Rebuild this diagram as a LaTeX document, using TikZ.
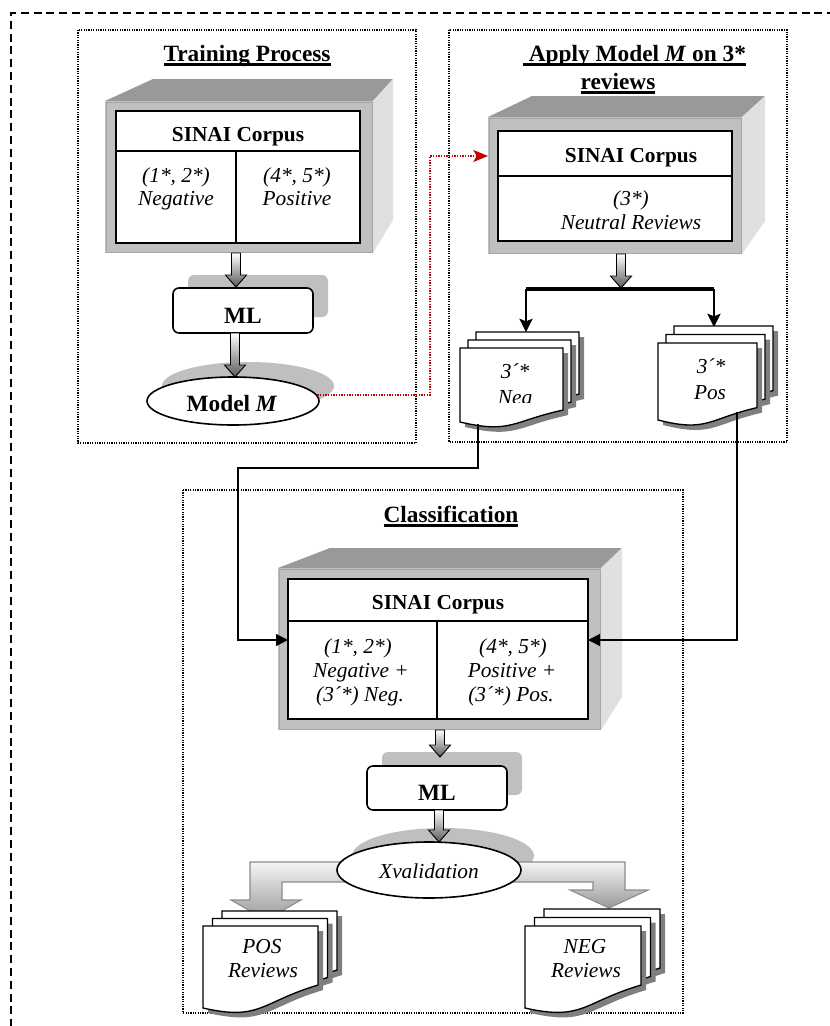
\documentclass[tikz,border=0pt]{standalone}
\usepackage{fontspec}
\setmainfont{Liberation Serif}
\usetikzlibrary{arrows.meta,shapes.geometric}

\definecolor{facefront}{HTML}{C0C0C0}
\definecolor{facetop}{HTML}{999999}
\definecolor{faceside}{HTML}{E0E0E0}
\definecolor{softshadow}{HTML}{BFBFBF}
\definecolor{pageshadow}{HTML}{7F7F7F}
\definecolor{linkred}{HTML}{C00000}

% heavy underline for the panel titles
\newcommand{\thickul}[1]{\setbox0\hbox{#1}\rlap{\rule[-3.4pt]{\wd0}{2pt}}\box0}

% bevelled box: front left, front top, front right, front bottom,
% back left, back top, back right, bottom of the side face
\newcommand{\bevelbox}[8]{%
  \fill[facetop] (#1,#2) -- (#5,#6) -- (#7,#6) -- (#3,#2) -- cycle;
  \fill[faceside] (#3,#2) -- (#7,#6) -- (#7,#8) -- (#3,#4) -- cycle;
  \fill[facefront] (#1,#2) rectangle (#3,#4);
  \draw[black!35, line width=0.6pt] ({#1+1},{#2+1}) rectangle ({#3-1},{#4-1});
}

% wave of the lower page edge (fractions of the left edge height)
\def\waveR{0.839}\def\waveA{0.99}\def\waveB{1.161}
% one page with a wavy lower edge: left, top, width, height of the left edge
\newcommand{\docpath}[4]{({#1},{#2}) -- ({#1+#3},{#2}) -- ({#1+#3},{#2+\waveR*#4})
  .. controls ({#1+0.5*#3},{#2+\waveA*#4}) and ({#1+0.5*#3},{#2+\waveB*#4}) .. ({#1},{#2+#4}) -- cycle}
\newcommand{\docpage}[4]{%
  \fill[pageshadow] \docpath{#1+5}{#2+5}{#3}{#4};
  \path[docline] \docpath{#1}{#2}{#3}{#4};
}
% stack of three pages: front left, front top, width, height, step x, step y
\newcommand{\docstack}[6]{%
  \docpage{#1+2*#5}{#2-2*#6}{#3}{#4}
  \docpage{#1+#5}{#2-#6}{#3}{#4}
  \docpage{#1}{#2}{#3}{#4}
}
% short shaded block arrow pointing down: x, top, tip
\newcommand{\blockdown}[3]{%
  \path[blockarrow] ({#1-4.5},{#2}) -- ({#1+4.5},{#2}) -- ({#1+4.5},{#3-12}) -- ({#1+10.5},{#3-12})
    -- ({#1},{#3}) -- ({#1-10.5},{#3-12}) -- ({#1-4.5},{#3-12}) -- cycle;
}

\begin{document}
\begin{tikzpicture}[x=0.75pt,y=-0.75pt,
  panel/.style={draw=black, line width=0.9pt, dash pattern=on 0.9pt off 0.9pt},
  outerframe/.style={draw=black, line width=1.3pt, dash pattern=on 6pt off 3.6pt},
  titletxt/.style={font=\fontsize{17.5}{20}\selectfont\bfseries, inner sep=0pt, anchor=base},
  headtxt/.style={font=\fontsize{16}{19}\selectfont\bfseries, inner sep=0pt, anchor=base},
  celltxt/.style={font=\fontsize{16}{19}\selectfont\itshape, inner sep=0pt, anchor=base},
  bigtxt/.style={font=\fontsize{17.5}{20}\selectfont\bfseries, inner sep=0pt, anchor=base},
  tabline/.style={draw=black, line width=1.5pt},
  mlbox/.style={draw=black, line width=1.2pt, fill=white, rounded corners=4.5pt, inner sep=0pt},
  oval/.style={ellipse, draw=black, line width=1.2pt, fill=white, inner sep=0pt},
  blockarrow/.style={draw=black, line width=0.7pt, top color=white, bottom color=black!65},
  bigarrow/.style={draw=black!45, line width=0.8pt, top color=white!96!black, bottom color=black!40},
  docline/.style={draw=black, line width=1pt, fill=white},
  conn/.style={draw=black, line width=1pt},
  reddot/.style={draw=linkred, line width=1pt, dash pattern=on 1pt off 1pt},
]
\clip (0,0) rectangle (830,1026);

% frames
\draw[outerframe] (11,1040) -- (11,13) -- (845,13);
\draw[panel] (78,30) rectangle (416,443);
\draw[panel] (449,30) rectangle (787,442);
\draw[panel] (183,490) rectangle (683,1013);

% ---------- training process ----------
\node[titletxt] (ttrain) at (247,61) {\thickul{Training Process}};
\bevelbox{105}{101}{373}{253}{153}{79}{393}{220}
\draw[tabline, fill=white] (116,111) rectangle (360,243);
\draw[tabline] (116,151) -- (360,151);
\draw[tabline] (236,151) -- (236,243);
\node[headtxt] (tcorp) at (238,141) {SINAI Corpus};
\node[celltxt] (tneg1) at (176,182) {(1*, 2*)};
\node[celltxt] (tneg2) at (176,205) {Negative};
\node[celltxt] (tpos1) at (297,182) {(4*, 5*)};
\node[celltxt] (tpos2) at (297,205) {Positive};

\fill[softshadow, rounded corners=4.5pt] (188,275) rectangle (328,317);
\blockdown{236}{253}{287}
\node[mlbox, minimum width=105pt, minimum height=33.75pt] (ml1) at (243,310.5) {};
\node[bigtxt] (ml1t) at (243,323) {ML};

\fill[softshadow] (248,386) ellipse [x radius=86, y radius=24];
\blockdown{235}{333}{377}
\node[oval, minimum width=129pt, minimum height=36pt] (model) at (233,401) {};
\node[bigtxt] (modelt) at (232,411) {Model \textit{M}};

% link to the second stage
\coordinate (redturn) at (430,156);
\coordinate (applyin) at (488,156);
\draw[reddot, -{Stealth[length=11pt,width=9pt,inset=2.5pt]}] (model.4) -| (redturn) -- (applyin);

% ---------- apply model ----------
\node[titletxt] (tapp1) at (634.5,61) {\thickul{\ Apply Model \textit{M} on 3*}};
\node[titletxt] (tapp2) at (618,89) {\thickul{reviews}};
\bevelbox{488}{117}{742}{254}{532}{96}{765}{221}
\draw[tabline, fill=white] (498,131) rectangle (732,241);
\draw[tabline] (498,176) -- (732,176);
\node[headtxt] (acorp) at (631,162) {SINAI Corpus};
\node[celltxt] (aneu1) at (631,205) {(3*)};
\node[celltxt] (aneu2) at (631,229) {Neutral Reviews};

\blockdown{621}{254}{288}
\coordinate (splitL) at (526,289);
\coordinate (splitR) at (714,289);
\coordinate (negin) at (526,332);
\coordinate (posin) at (714,327);
\draw[line width=3pt] (splitL) -- (splitR);
\draw[conn, -{Stealth[length=10pt,width=10pt,inset=2pt]}] (splitL) -- (negin);
\draw[conn, -{Stealth[length=10pt,width=10pt,inset=2pt]}] (splitR) -- (posin);

\docstack{460}{348}{103}{74}{8}{8}
\begin{scope}
  \clip (440,330) rectangle (600,402);
  \node[celltxt] (negd1) at (515,378) {3´*};
  \node[celltxt] (negd2) at (515,404) {Neg};
\end{scope}
\docstack{658}{343}{99}{77}{8}{8.5}
\node[celltxt] (posd1) at (711,373) {3´*};
\node[celltxt] (posd2) at (710,399) {Pos};

% ---------- classification ----------
\node[titletxt] (tcls) at (451,522) {\thickul{Classification}};
\bevelbox{278}{568}{601}{730}{330}{548}{622}{697}
\draw[tabline, fill=white] (288,579) rectangle (588,719);
\draw[tabline] (288,621) -- (588,621);
\draw[tabline] (437,621) -- (437,719);
\node[headtxt] (ccorp) at (438,609) {SINAI Corpus};
\node[celltxt] (cneg1) at (358,653) {(1*, 2*)};
\node[celltxt] (cneg2) at (361,677) {Negative +};
\node[celltxt] (cneg3) at (360,701) {(3´*) Neg.};
\node[celltxt] (cpos1) at (513,653) {(4*, 5*)};
\node[celltxt] (cpos2) at (512,677) {Positive +};
\node[celltxt] (cpos3) at (511,701) {(3´*) Pos.};

% feedback of the labelled neutral reviews
\coordinate (negout) at (478,424);
\coordinate (posout) at (737,412);
\coordinate (negturn) at (238,468);
\coordinate (ctabL) at (288,640);
\coordinate (ctabR) at (588,640);
\draw[conn, -{Triangle[length=9pt,width=9pt]}] (negout) |- (negturn) |- (ctabL);
\draw[conn, -{Triangle[length=9pt,width=9pt]}] (posout) |- (ctabR);

\fill[softshadow, rounded corners=4.5pt] (382,752) rectangle (522,795);
\blockdown{440}{730}{757}
\node[mlbox, minimum width=105pt, minimum height=33pt] (ml2) at (437,788) {};
\node[bigtxt] (ml2t) at (437,800) {ML};

\fill[softshadow] (443,856) ellipse [x radius=91, y radius=28];
\blockdown{439}{810}{842}
\path[bigarrow] (345,862) -- (250,862) -- (250,900) -- (231,900) -- (266,920) -- (301,900)
  -- (282,900) -- (282,882) -- (345,882) -- cycle;
\path[bigarrow] (512,862) -- (625,862) -- (625,890) -- (648,890) -- (609,908) -- (570,890)
  -- (593,890) -- (593,882) -- (512,882) -- cycle;
\node[oval, minimum width=138pt, minimum height=42pt] (xval) at (429,870) {};
\node[celltxt] (xvalt) at (429,878) {Xvalidation};

% result stacks have a deeper wave
\def\waveR{0.72}\def\waveA{0.93}\def\waveB{1.16}
\docstack{203}{926}{115}{82}{9.5}{7.5}
\node[celltxt] (posr1) at (262,953) {POS};
\node[celltxt] (posr2) at (263,977) {Reviews};
\docstack{525}{926}{116}{82}{9.5}{8.5}
\node[celltxt] (negr1) at (585,953) {NEG};
\node[celltxt] (negr2) at (586,977) {Reviews};
\end{tikzpicture}
\end{document}
